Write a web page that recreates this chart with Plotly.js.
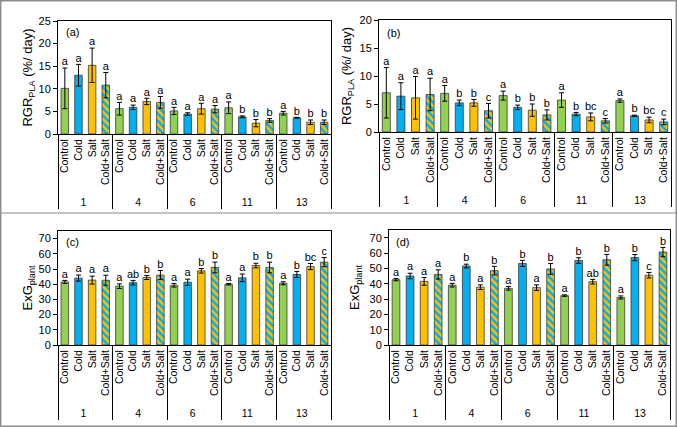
<!DOCTYPE html>
<html>
<head>
<meta charset="utf-8">
<script src="https://cdn.plot.ly/plotly-3.0.1.min.js"></script>
<style>html,body{margin:0;padding:0;background:#fff;}#chart{width:677px;height:427px;}</style>
</head>
<body>
<div id="chart"></div>
<script>
const groups = ["1", "4", "6", "11", "13"];
const treatments = ["Control", "Cold", "Salt", "Cold+Salt"];

// Panel (a) RGR_PLA, rows = treatments, columns = groups
const aMeans = [[10.1, 5.6, 5.1, 5.8, 4.6], [13.0, 5.9, 4.4, 3.8, 3.6], [15.2, 7.2, 5.6, 2.4, 2.6], [10.8, 7.0, 5.5, 3.0, 2.6]];
const aErrs = [[4.5, 1.4, 0.8, 1.3, 0.4], [2.4, 0.5, 0.3, 0.2, 0.1], [3.8, 0.7, 1.2, 0.8, 0.5], [2.8, 1.3, 0.8, 0.4, 0.5]];
const aLetters = [["a", "a", "a", "a", "a"], ["a", "a", "a", "b", "b"], ["a", "a", "a", "b", "b"], ["a", "a", "a", "b", "b"]];

// Panel (b) RGR_PLA
const bMeans = [[7.0, 6.9, 6.5, 5.7, 5.6], [6.4, 5.2, 4.4, 3.2, 2.9], [6.1, 5.2, 3.9, 2.7, 2.15], [6.7, 3.8, 3.05, 2.0, 1.8]];
const bErrs = [[4.5, 1.4, 0.8, 1.3, 0.3], [2.4, 0.5, 0.4, 0.3, 0.1], [3.8, 0.6, 1.1, 0.7, 0.5], [2.9, 1.3, 0.9, 0.4, 0.5]];
const bLetters = [["a", "a", "a", "a", "a"], ["a", "b", "b", "b", "b"], ["a", "b", "b", "bc", "bc"], ["a", "c", "b", "c", "c"]];

// Panel (c) ExG_plant
const cMeans = [[41.5, 38.7, 39.3, 40.0, 40.6], [44.0, 41.0, 41.3, 44.2, 46.4], [42.7, 44.4, 48.8, 52.3, 51.6], [42.6, 46.0, 51.0, 51.0, 54.5]];
const cErrs = [[1.0, 1.5, 1.2, 0.5, 1.0], [2.0, 1.5, 2.0, 2.5, 2.0], [2.6, 1.3, 1.5, 1.5, 2.0], [3.3, 3.0, 3.5, 3.5, 3.0]];
const cLetters = [["a", "a", "a", "a", "a"], ["a", "ab", "a", "a", "b"], ["a", "b", "b", "b", "bc"], ["a", "b", "b", "b", "c"]];

// Panel (d) ExG_plant
const dMeans = [[42.6, 39.0, 37.0, 32.2, 31.0], [45.0, 51.5, 53.2, 55.1, 57.0], [41.5, 37.7, 37.4, 41.3, 45.5], [46.0, 48.5, 49.6, 55.6, 60.6]];
const dErrs = [[0.7, 1.2, 1.2, 0.5, 1.0], [1.8, 1.2, 2.0, 1.8, 2.0], [2.5, 1.5, 1.8, 1.5, 1.8], [3.0, 2.8, 3.5, 3.5, 3.0]];
const dLetters = [["a", "a", "a", "a", "a"], ["a", "b", "b", "b", "b"], ["a", "a", "a", "ab", "c"], ["a", "b", "b", "b", "b"]];

const panelLabels = ["(a)", "(b)", "(c)", "(d)"];
const yTitles = ["RGR<sub>PLA</sub> (%/ day)", "RGR<sub>PLA</sub> (%/ day)", "ExG<sub>plant</sub>", "ExG<sub>plant</sub>"];

const FONT = "Liberation Sans, Arial, sans-serif";
const colors = ["#92D050", "#00B0F0", "#FFC000", "#FFC000"];

const panels = [
  {means: aMeans, errs: aErrs, letters: aLetters, xa: "x", ya: "y"},
  {means: bMeans, errs: bErrs, letters: bLetters, xa: "x2", ya: "y2"},
  {means: cMeans, errs: cErrs, letters: cLetters, xa: "x3", ya: "y3"},
  {means: dMeans, errs: dErrs, letters: dLetters, xa: "x4", ya: "y4"}
];

const traces = [];
panels.forEach((p) => {
  treatments.forEach((t, ti) => {
    const xcat = [groups.slice(), groups.map(() => t)];
    const marker = {color: colors[ti], line: {color: "#3a3a3a", width: 0.8}};
    if (ti === 3) {
      marker.pattern = {shape: "\\", bgcolor: "#FFC000", fgcolor: "#00B0F0", size: 5, solidity: 0.5, fillmode: "replace"};
    }
    traces.push({
      type: "bar", x: xcat, y: p.means[ti], xaxis: p.xa, yaxis: p.ya,
      width: 0.55, marker: marker, showlegend: false, hoverinfo: "skip",
      error_y: {type: "data", array: p.errs[ti], visible: true, color: "#000", thickness: 1, width: 2.5}
    });
    traces.push({
      type: "scatter", mode: "text", x: xcat,
      y: p.means[ti].map((v, i) => v + p.errs[ti][i]),
      text: p.letters[ti], textposition: "top center",
      textfont: {family: FONT, size: 11, color: "#000"},
      xaxis: p.xa, yaxis: p.ya, showlegend: false, hoverinfo: "skip", cliponaxis: false
    });
  });
});

function xax(domain, anchor) {
  return {
    type: "multicategory", domain: domain, anchor: anchor, range: [-0.5, 19.5],
    showline: true, linecolor: "#000", linewidth: 1, mirror: true,
    tickangle: -90, ticks: "", showgrid: false, zeroline: false,
    tickfont: {family: FONT, size: 10.5, color: "#000"},
    showdividers: true, dividercolor: "#000", dividerwidth: 1
  };
}
function yax(domain, anchor, range, dtick, title, standoff) {
  return {
    domain: domain, anchor: anchor, range: range, dtick: dtick, tick0: 0,
    showline: true, linecolor: "#000", linewidth: 1, mirror: true,
    ticks: "outside", ticklen: 4, tickcolor: "#000", showgrid: false, zeroline: false,
    tickfont: {family: FONT, size: 11, color: "#000"},
    title: {text: title, font: {family: FONT, size: 13, color: "#000"}, standoff: standoff}
  };
}

const W = 677, H = 427;
const px = (v) => v / W, py = (v) => 1 - v / H;

const layout = {
  width: W, height: H, margin: {l: 0, r: 0, t: 0, b: 0},
  paper_bgcolor: "#fff", plot_bgcolor: "#fff",
  barmode: "overlay", bargap: 0.45,
  font: {family: FONT, size: 10, color: "#000"},
  xaxis: xax([px(58), px(331)], "y"),
  yaxis: yax([py(134), py(21)], "x", [0, 25], 5, yTitles[0], 2),
  xaxis2: xax([px(379), px(671)], "y2"),
  yaxis2: yax([py(132), py(20)], "x2", [0, 20], 5, yTitles[1], 4),
  xaxis3: xax([px(58), px(331)], "y3"),
  yaxis3: yax([py(345), py(231)], "x3", [0, 75], 10, yTitles[2], 2),
  xaxis4: xax([px(389), px(670)], "y4"),
  yaxis4: yax([py(345), py(230)], "x4", [0, 75], 10, yTitles[3], 6),
  shapes: [
    {type: "rect", xref: "paper", yref: "paper", x0: 0.001, x1: 0.999, y0: 0.002, y1: 0.998, line: {color: "#8c8c8c", width: 1.5}},
    {type: "line", xref: "paper", yref: "paper", x0: 0, x1: 1, y0: py(213), y1: py(213), line: {color: "#8c8c8c", width: 1.2}}
  ],
  annotations: [
    {text: panelLabels[0], xref: "x domain", yref: "y domain", x: 0.022, y: 0.90, xanchor: "left", yanchor: "middle", showarrow: false, font: {family: FONT, size: 11, color: "#000"}},
    {text: panelLabels[1], xref: "x2 domain", yref: "y2 domain", x: 0.02, y: 0.88, xanchor: "left", yanchor: "middle", showarrow: false, font: {family: FONT, size: 11, color: "#000"}},
    {text: panelLabels[2], xref: "x3 domain", yref: "y3 domain", x: 0.022, y: 0.90, xanchor: "left", yanchor: "middle", showarrow: false, font: {family: FONT, size: 11, color: "#000"}},
    {text: panelLabels[3], xref: "x4 domain", yref: "y4 domain", x: 0.018, y: 0.90, xanchor: "left", yanchor: "middle", showarrow: false, font: {family: FONT, size: 11, color: "#000"}}
  ]
};

Plotly.newPlot("chart", traces, layout, {displayModeBar: false, staticPlot: true});
</script>
</body>
</html>
